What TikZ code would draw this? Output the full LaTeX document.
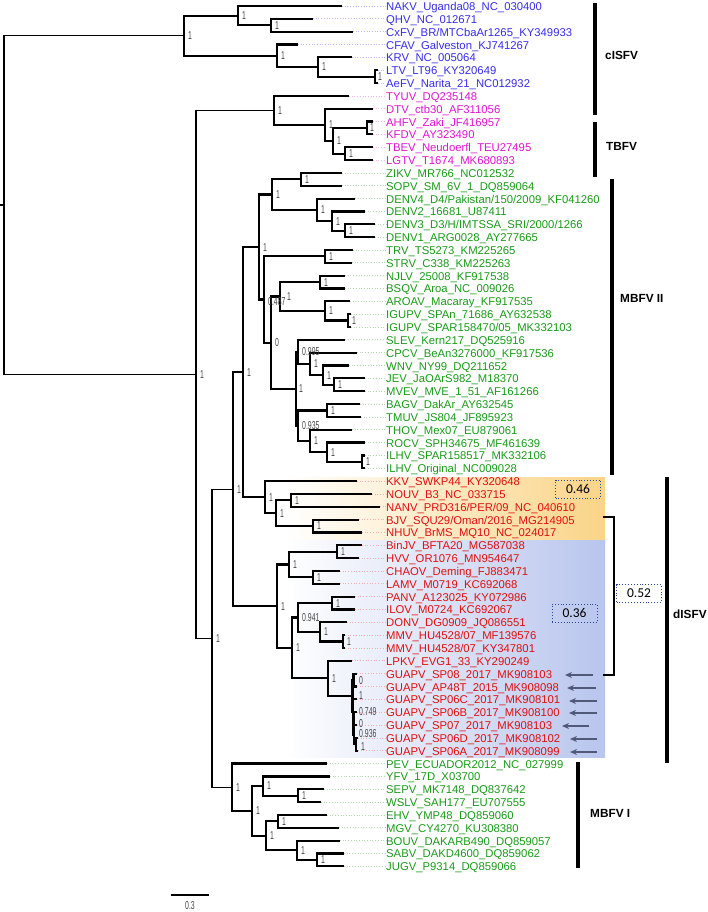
\documentclass[tikz,border=0pt]{standalone}
\usepackage{graphicx}
\usepackage{fontspec}
\setmainfont{Liberation Sans}
\newfontfamily\calibrifont{Carlito}
\usetikzlibrary{arrows.meta}
\definecolor{cblue}{RGB}{55,45,235}
\definecolor{cmag}{RGB}{225,20,210}
\definecolor{cgreen}{RGB}{25,155,25}
\definecolor{cred}{RGB}{225,15,15}
\definecolor{cblueL}{RGB}{190,186,250}
\definecolor{cmagL}{RGB}{245,180,240}
\definecolor{cgreenL}{RGB}{175,220,175}
\definecolor{credL}{RGB}{245,175,175}
\definecolor{ybox}{RGB}{250,212,135}
\definecolor{bbox}{RGB}{184,197,237}
\definecolor{arrowc}{RGB}{80,90,120}
\definecolor{dotc}{RGB}{40,70,150}
\definecolor{supc}{RGB}{70,70,70}
\tikzset{
 br/.style={line width=2.2pt},
 thinbr/.style={line width=1.3pt},
 leaflab/.style={anchor=base west, inner sep=0pt, font=\fontsize{11.3}{13}\selectfont},
 leader/.style={dotted, line width=0.7pt},
 supl/.style={anchor=west, inner sep=0pt, text=supc, font=\fontsize{11.5}{12}\selectfont},
 cladebar/.style={line width=3.5pt},
 cladelab/.style={anchor=west, inner sep=0pt, font=\bfseries\fontsize{11.8}{13}\selectfont},
 valbox/.style={draw=dotc, dotted, line width=0.9pt, inner sep=0pt, minimum width=45pt, minimum height=18pt, font=\calibrifont\fontsize{13.5}{15}\selectfont},
 guarrow/.style={-{Stealth[length=7pt,width=6pt]}, draw=arrowc, line width=1.4pt},
}
\begin{document}
\begin{tikzpicture}[x=1pt,y=-1pt]
\useasboundingbox (0,0) rectangle (708,912);
\fill[white] (0,0) rectangle (708,912);
% coloured backgrounds
\shade[left color=white, right color=ybox] (285,477) rectangle (605,540.5);
\shade[left color=white, right color=bbox] (285,540.5) rectangle (605,757);
% leaves
\coordinate (L1) at (342,6.00); \node[leaflab,text=cblue] (lab1) at (386,10.50) {NAKV\_Uganda08\_NC\_030400};
\coordinate (L2) at (313,18.84); \node[leaflab,text=cblue] (lab2) at (386,23.34) {QHV\_NC\_012671};
\coordinate (L3) at (353,31.68); \node[leaflab,text=cblue] (lab3) at (386,36.18) {CxFV\_BR/MTCbaAr1265\_KY349933};
\coordinate (L4) at (298,44.52); \node[leaflab,text=cblue] (lab4) at (386,49.02) {CFAV\_Galveston\_KJ741267};
\coordinate (L5) at (352,57.36); \node[leaflab,text=cblue] (lab5) at (386,61.86) {KRV\_NC\_005064};
\coordinate (L6) at (378,70.20); \node[leaflab,text=cblue] (lab6) at (386,74.70) {LTV\_LT96\_KY320649};
\coordinate (L7) at (378,83.04); \node[leaflab,text=cblue] (lab7) at (386,87.54) {AeFV\_Narita\_21\_NC012932};
\coordinate (L8) at (349,95.88); \node[leaflab,text=cmag] (lab8) at (386,100.38) {TYUV\_DQ235148};
\coordinate (L9) at (373,108.72); \node[leaflab,text=cmag] (lab9) at (386,113.22) {DTV\_ctb30\_AF311056};
\coordinate (L10) at (373,121.56); \node[leaflab,text=cmag] (lab10) at (386,126.06) {AHFV\_Zaki\_JF416957};
\coordinate (L11) at (373,134.40); \node[leaflab,text=cmag] (lab11) at (386,138.90) {KFDV\_AY323490};
\coordinate (L12) at (373,147.24); \node[leaflab,text=cmag] (lab12) at (386,151.74) {TBEV\_Neudoerfl\_TEU27495};
\coordinate (L13) at (373,160.08); \node[leaflab,text=cmag] (lab13) at (386,164.58) {LGTV\_T1674\_MK680893};
\coordinate (L14) at (342,172.92); \node[leaflab,text=cgreen] (lab14) at (386,177.42) {ZIKV\_MR766\_NC012532};
\coordinate (L15) at (342,185.76); \node[leaflab,text=cgreen] (lab15) at (386,190.26) {SOPV\_SM\_6V\_1\_DQ859064};
\coordinate (L16) at (355,198.60); \node[leaflab,text=cgreen] (lab16) at (386,203.10) {DENV4\_D4/Pakistan/150/2009\_KF041260};
\coordinate (L17) at (365,211.44); \node[leaflab,text=cgreen] (lab17) at (386,215.94) {DENV2\_16681\_U87411};
\coordinate (L18) at (375,224.28); \node[leaflab,text=cgreen] (lab18) at (386,228.78) {DENV3\_D3/H/IMTSSA\_SRI/2000/1266};
\coordinate (L19) at (375,237.12); \node[leaflab,text=cgreen] (lab19) at (386,241.62) {DENV1\_ARG0028\_AY277665};
\coordinate (L20) at (353,249.96); \node[leaflab,text=cgreen] (lab20) at (386,254.46) {TRV\_TS5273\_KM225265};
\coordinate (L21) at (352,262.80); \node[leaflab,text=cgreen] (lab21) at (386,267.30) {STRV\_C338\_KM225263};
\coordinate (L22) at (345,275.64); \node[leaflab,text=cgreen] (lab22) at (386,280.14) {NJLV\_25008\_KF917538};
\coordinate (L23) at (345,288.48); \node[leaflab,text=cgreen] (lab23) at (386,292.98) {BSQV\_Aroa\_NC\_009026};
\coordinate (L24) at (350,301.32); \node[leaflab,text=cgreen] (lab24) at (386,305.82) {AROAV\_Macaray\_KF917535};
\coordinate (L25) at (351,314.16); \node[leaflab,text=cgreen] (lab25) at (386,318.66) {IGUPV\_SPAn\_71686\_AY632538};
\coordinate (L26) at (351,327.00); \node[leaflab,text=cgreen] (lab26) at (386,331.50) {IGUPV\_SPAR158470/05\_MK332103};
\coordinate (L27) at (345,339.84); \node[leaflab,text=cgreen] (lab27) at (386,344.34) {SLEV\_Kern217\_DQ525916};
\coordinate (L28) at (357,352.68); \node[leaflab,text=cgreen] (lab28) at (386,357.18) {CPCV\_BeAn3276000\_KF917536};
\coordinate (L29) at (349,365.52); \node[leaflab,text=cgreen] (lab29) at (386,370.02) {WNV\_NY99\_DQ211652};
\coordinate (L30) at (365,378.36); \node[leaflab,text=cgreen] (lab30) at (386,382.86) {JEV\_JaOArS982\_M18370};
\coordinate (L31) at (365,391.20); \node[leaflab,text=cgreen] (lab31) at (386,395.70) {MVEV\_MVE\_1\_51\_AF161266};
\coordinate (L32) at (360,404.04); \node[leaflab,text=cgreen] (lab32) at (386,408.54) {BAGV\_DakAr\_AY632545};
\coordinate (L33) at (361,416.88); \node[leaflab,text=cgreen] (lab33) at (386,421.38) {TMUV\_JS804\_JF895923};
\coordinate (L34) at (352,429.72); \node[leaflab,text=cgreen] (lab34) at (386,434.22) {THOV\_Mex07\_EU879061};
\coordinate (L35) at (365,442.56); \node[leaflab,text=cgreen] (lab35) at (386,447.06) {ROCV\_SPH34675\_MF461639};
\coordinate (L36) at (365,455.40); \node[leaflab,text=cgreen] (lab36) at (386,459.90) {ILHV\_SPAR158517\_MK332106};
\coordinate (L37) at (365,468.24); \node[leaflab,text=cgreen] (lab37) at (386,472.74) {ILHV\_Original\_NC009028};
\coordinate (L38) at (357,481.08); \node[leaflab,text=cred] (lab38) at (386,485.58) {KKV\_SWKP44\_KY320648};
\coordinate (L39) at (372,493.92); \node[leaflab,text=cred] (lab39) at (386,498.42) {NOUV\_B3\_NC\_033715};
\coordinate (L40) at (380,506.76); \node[leaflab,text=cred] (lab40) at (386,511.26) {NANV\_PRD316/PER/09\_NC\_040610};
\coordinate (L41) at (359,519.60); \node[leaflab,text=cred] (lab41) at (386,524.10) {BJV\_SQU29/Oman/2016\_MG214905};
\coordinate (L42) at (362,532.44); \node[leaflab,text=cred] (lab42) at (386,536.94) {NHUV\_BrMS\_MQ10\_NC\_024017};
\coordinate (L43) at (362,545.28); \node[leaflab,text=cred] (lab43) at (386,549.78) {BinJV\_BFTA20\_MG587038};
\coordinate (L44) at (359,558.12); \node[leaflab,text=cred] (lab44) at (386,562.62) {HVV\_OR1076\_MN954647};
\coordinate (L45) at (340,570.96); \node[leaflab,text=cred] (lab45) at (386,575.46) {CHAOV\_Deming\_FJ883471};
\coordinate (L46) at (340,583.80); \node[leaflab,text=cred] (lab46) at (386,588.30) {LAMV\_M0719\_KC692068};
\coordinate (L47) at (355,596.64); \node[leaflab,text=cred] (lab47) at (386,601.14) {PANV\_A123025\_KY072986};
\coordinate (L48) at (355,609.48); \node[leaflab,text=cred] (lab48) at (386,613.98) {ILOV\_M0724\_KC692067};
\coordinate (L49) at (347,622.32); \node[leaflab,text=cred] (lab49) at (386,626.82) {DONV\_DG0909\_JQ086551};
\coordinate (L50) at (345,635.16); \node[leaflab,text=cred] (lab50) at (386,639.66) {MMV\_HU4528/07\_MF139576};
\coordinate (L51) at (345,648.00); \node[leaflab,text=cred] (lab51) at (386,652.50) {MMV\_HU4528/07\_KY347801};
\coordinate (L52) at (352,660.84); \node[leaflab,text=cred] (lab52) at (386,665.34) {LPKV\_EVG1\_33\_KY290249};
\coordinate (L53) at (357,673.68); \node[leaflab,text=cred] (lab53) at (386,678.18) {GUAPV\_SP08\_2017\_MK908103};
\coordinate (L54) at (357,686.52); \node[leaflab,text=cred] (lab54) at (386,691.02) {GUAPV\_AP48T\_2015\_MK908098};
\coordinate (L55) at (357,699.36); \node[leaflab,text=cred] (lab55) at (386,703.86) {GUAPV\_SP06C\_2017\_MK908101};
\coordinate (L56) at (357,712.20); \node[leaflab,text=cred] (lab56) at (386,716.70) {GUAPV\_SP06B\_2017\_MK908100};
\coordinate (L57) at (357,725.04); \node[leaflab,text=cred] (lab57) at (386,729.54) {GUAPV\_SP07\_2017\_MK908103};
\coordinate (L58) at (358,737.88); \node[leaflab,text=cred] (lab58) at (386,742.38) {GUAPV\_SP06D\_2017\_MK908102};
\coordinate (L59) at (358,750.72); \node[leaflab,text=cred] (lab59) at (386,755.22) {GUAPV\_SP06A\_2017\_MK908099};
\coordinate (L60) at (327,763.56); \node[leaflab,text=cgreen] (lab60) at (386,768.06) {PEV\_ECUADOR2012\_NC\_027999};
\coordinate (L61) at (330,776.40); \node[leaflab,text=cgreen] (lab61) at (386,780.90) {YFV\_17D\_X03700};
\coordinate (L62) at (324,789.24); \node[leaflab,text=cgreen] (lab62) at (386,793.74) {SEPV\_MK7148\_DQ837642};
\coordinate (L63) at (321,802.08); \node[leaflab,text=cgreen] (lab63) at (386,806.58) {WSLV\_SAH177\_EU707555};
\coordinate (L64) at (327,814.92); \node[leaflab,text=cgreen] (lab64) at (386,819.42) {EHV\_YMP48\_DQ859060};
\coordinate (L65) at (339,827.76); \node[leaflab,text=cgreen] (lab65) at (386,832.26) {MGV\_CY4270\_KU308380};
\coordinate (L66) at (340,840.60); \node[leaflab,text=cgreen] (lab66) at (386,845.10) {BOUV\_DAKARB490\_DQ859057};
\coordinate (L67) at (344,853.44); \node[leaflab,text=cgreen] (lab67) at (386,857.94) {SABV\_DAKD4600\_DQ859062};
\coordinate (L68) at (344,866.28); \node[leaflab,text=cgreen] (lab68) at (386,870.78) {JUGV\_P9314\_DQ859066};
% leader lines
\draw[leader,draw=cblueL] (L1) -- (lab1.west |- L1) (L2) -- (lab2.west |- L2) (L3) -- (lab3.west |- L3) (L4) -- (lab4.west |- L4) (L5) -- (lab5.west |- L5) (L6) -- (lab6.west |- L6) (L7) -- (lab7.west |- L7);
\draw[leader,draw=cmagL] (L8) -- (lab8.west |- L8) (L9) -- (lab9.west |- L9) (L10) -- (lab10.west |- L10) (L11) -- (lab11.west |- L11) (L12) -- (lab12.west |- L12) (L13) -- (lab13.west |- L13);
\draw[leader,draw=cgreenL] (L14) -- (lab14.west |- L14) (L15) -- (lab15.west |- L15) (L16) -- (lab16.west |- L16) (L17) -- (lab17.west |- L17) (L18) -- (lab18.west |- L18) (L19) -- (lab19.west |- L19) (L20) -- (lab20.west |- L20) (L21) -- (lab21.west |- L21) (L22) -- (lab22.west |- L22) (L23) -- (lab23.west |- L23) (L24) -- (lab24.west |- L24) (L25) -- (lab25.west |- L25) (L26) -- (lab26.west |- L26) (L27) -- (lab27.west |- L27) (L28) -- (lab28.west |- L28) (L29) -- (lab29.west |- L29) (L30) -- (lab30.west |- L30) (L31) -- (lab31.west |- L31) (L32) -- (lab32.west |- L32) (L33) -- (lab33.west |- L33) (L34) -- (lab34.west |- L34) (L35) -- (lab35.west |- L35) (L36) -- (lab36.west |- L36) (L37) -- (lab37.west |- L37);
\draw[leader,draw=credL] (L38) -- (lab38.west |- L38) (L39) -- (lab39.west |- L39) (L40) -- (lab40.west |- L40) (L41) -- (lab41.west |- L41) (L42) -- (lab42.west |- L42) (L43) -- (lab43.west |- L43) (L44) -- (lab44.west |- L44) (L45) -- (lab45.west |- L45) (L46) -- (lab46.west |- L46) (L47) -- (lab47.west |- L47) (L48) -- (lab48.west |- L48) (L49) -- (lab49.west |- L49) (L50) -- (lab50.west |- L50) (L51) -- (lab51.west |- L51) (L52) -- (lab52.west |- L52) (L53) -- (lab53.west |- L53) (L54) -- (lab54.west |- L54) (L55) -- (lab55.west |- L55) (L56) -- (lab56.west |- L56) (L57) -- (lab57.west |- L57) (L58) -- (lab58.west |- L58) (L59) -- (lab59.west |- L59);
\draw[leader,draw=cgreenL] (L60) -- (lab60.west |- L60) (L61) -- (lab61.west |- L61) (L62) -- (lab62.west |- L62) (L63) -- (lab63.west |- L63) (L64) -- (lab64.west |- L64) (L65) -- (lab65.west |- L65) (L66) -- (lab66.west |- L66) (L67) -- (lab67.west |- L67) (L68) -- (lab68.west |- L68);
% internal nodes
\coordinate (R0) at (0,204.98);
\coordinate (R) at (4,204.98);
\coordinate (c0) at (184,35.69);
\coordinate (c1) at (238,15.63);
\coordinate (c1b) at (271,25.26);
\coordinate (c2) at (277,55.76);
\coordinate (c3) at (318,66.99);
\coordinate (c4) at (375,76.62);
\coordinate (BB) at (196,374.26);
\coordinate (A) at (274,110.33);
\coordinate (B) at (325,124.77);
\coordinate (C) at (333,140.82);
\coordinate (D) at (367,127.98);
\coordinate (Etb) at (345,153.66);
\coordinate (F) at (212,638.19);
\coordinate (G) at (233,489.16);
\coordinate (H) at (243,372.09);
\coordinate (N2) at (259,247.05);
\coordinate (Z) at (272,194.59);
\coordinate (ZS) at (301,179.34);
\coordinate (DV) at (317,209.84);
\coordinate (DV2) at (332,221.07);
\coordinate (DV3) at (345,230.70);
\coordinate (N3) at (264,299.51);
\coordinate (TS) at (325,256.38);
\coordinate (N4) at (271,342.65);
\coordinate (Q) at (280,296.51);
\coordinate (NB) at (320,282.06);
\coordinate (AI) at (325,310.95);
\coordinate (IG) at (348,320.58);
\coordinate (S) at (296,388.79);
\coordinate (S1) at (298,351.88);
\coordinate (S2) at (310,363.92);
\coordinate (S3) at (323,375.15);
\coordinate (S4) at (334,384.78);
\coordinate (S6) at (298,425.71);
\coordinate (BT) at (327,410.46);
\coordinate (S7) at (310,440.96);
\coordinate (S8) at (327,452.19);
\coordinate (IL) at (362,461.82);
\coordinate (K1) at (265,497.13);
\coordinate (K2) at (276,513.18);
\coordinate (K3) at (291,500.34);
\coordinate (K4) at (313,526.02);
\coordinate (B0) at (277,606.22);
\coordinate (B1) at (289,564.54);
\coordinate (BH) at (337,551.70);
\coordinate (CL) at (313,577.38);
\coordinate (B2) at (292,647.90);
\coordinate (B3) at (298,617.51);
\coordinate (PI) at (332,603.06);
\coordinate (B4) at (320,631.95);
\coordinate (MM) at (343,641.58);
\coordinate (LG) at (328,678.29);
\coordinate (GU) at (352.5,695.75);
\coordinate (GA) at (353.5,680.10);
\coordinate (GB) at (353,711.40);
\coordinate (GC) at (353.5,723.44);
\coordinate (GD) at (354,734.67);
\coordinate (GE) at (356,744.30);
\coordinate (M0) at (232,787.23);
\coordinate (M1) at (252,810.90);
\coordinate (M2) at (263,786.03);
\coordinate (SW) at (298,795.66);
\coordinate (M3) at (266,835.79);
\coordinate (EM) at (278,821.34);
\coordinate (BO) at (297,850.23);
\coordinate (SJ) at (317,859.86);
% thin basal branches
\draw[thinbr] (R0) -- (R) (R) |- (c0) (R) |- (BB);
\draw[thinbr] (BB) |- (A) (BB) |- (F);
\draw[thinbr] (F) |- (G) (F) |- (M0);
% branches
\draw[br] (c0) |- (c1) (c0) |- (c2);
\draw[br] (c1) |- (L1) (c1) |- (c1b);
\draw[br] (c1b) |- (L2) (c1b) |- (L3);
\draw[br] (c2) |- (L4) (c2) |- (c3);
\draw[br] (c3) |- (L5) (c3) |- (c4);
\draw[br] (c4) |- (L6) (c4) |- (L7);
\draw[br] (A) |- (L8) (A) |- (B);
\draw[br] (B) |- (L9) (B) |- (C);
\draw[br] (C) |- (D) (C) |- (Etb);
\draw[br] (D) |- (L10) (D) |- (L11);
\draw[br] (Etb) |- (L12) (Etb) |- (L13);
\draw[br] (G) |- (H) (G) |- (B0);
\draw[br] (H) |- (N2) (H) |- (K1);
\draw[br] (N2) |- (Z) (N2) |- (N3);
\draw[br] (Z) |- (ZS) (Z) |- (DV);
\draw[br] (ZS) |- (L14) (ZS) |- (L15);
\draw[br] (DV) |- (L16) (DV) |- (DV2);
\draw[br] (DV2) |- (L17) (DV2) |- (DV3);
\draw[br] (DV3) |- (L18) (DV3) |- (L19);
\draw[br] (N3) |- (TS) (N3) |- (N4);
\draw[br] (TS) |- (L20) (TS) |- (L21);
\draw[br] (N4) |- (Q) (N4) |- (S);
\draw[br] (Q) |- (NB) (Q) |- (AI);
\draw[br] (NB) |- (L22) (NB) |- (L23);
\draw[br] (AI) |- (L24) (AI) |- (IG);
\draw[br] (IG) |- (L25) (IG) |- (L26);
\draw[br] (S) |- (S1) (S) |- (S6);
\draw[br] (S1) |- (L27) (S1) |- (S2);
\draw[br] (S2) |- (L28) (S2) |- (S3);
\draw[br] (S3) |- (L29) (S3) |- (S4);
\draw[br] (S4) |- (L30) (S4) |- (L31);
\draw[br] (S6) |- (BT) (S6) |- (S7);
\draw[br] (BT) |- (L32) (BT) |- (L33);
\draw[br] (S7) |- (L34) (S7) |- (S8);
\draw[br] (S8) |- (L35) (S8) |- (IL);
\draw[br] (IL) |- (L36) (IL) |- (L37);
\draw[br] (K1) |- (L38) (K1) |- (K2);
\draw[br] (K2) |- (K3) (K2) |- (K4);
\draw[br] (K3) |- (L39) (K3) |- (L40);
\draw[br] (K4) |- (L41) (K4) |- (L42);
\draw[br] (B0) |- (B1) (B0) |- (B2);
\draw[br] (B1) |- (BH) (B1) |- (CL);
\draw[br] (BH) |- (L43) (BH) |- (L44);
\draw[br] (CL) |- (L45) (CL) |- (L46);
\draw[br] (B2) |- (B3) (B2) |- (LG);
\draw[br] (B3) |- (PI) (B3) |- (B4);
\draw[br] (PI) |- (L47) (PI) |- (L48);
\draw[br] (B4) |- (L49) (B4) |- (MM);
\draw[br] (MM) |- (L50) (MM) |- (L51);
\draw[br] (LG) |- (L52) (LG) |- (GU);
\draw[br] (GU) |- (GA) (GU) |- (GB);
\draw[br] (GA) |- (L53) (GA) |- (L54);
\draw[br] (GB) |- (L55) (GB) |- (GC);
\draw[br] (GC) |- (L56) (GC) |- (GD);
\draw[br] (GD) |- (L57) (GD) |- (GE);
\draw[br] (GE) |- (L58) (GE) |- (L59);
\draw[br] (M0) |- (L60) (M0) |- (M1);
\draw[br] (M1) |- (M2) (M1) |- (M3);
\draw[br] (M2) |- (L61) (M2) |- (SW);
\draw[br] (SW) |- (L62) (SW) |- (L63);
\draw[br] (M3) |- (EM) (M3) |- (BO);
\draw[br] (EM) |- (L64) (EM) |- (L65);
\draw[br] (BO) |- (L66) (BO) |- (SJ);
\draw[br] (SJ) |- (L67) (SJ) |- (L68);
% support values
\node[supl] (sc0) at ([xshift=4pt]c0) {\scalebox{0.6}[1]{1}};
\node[supl] (sc1) at ([xshift=4pt]c1) {\scalebox{0.6}[1]{1}};
\node[supl] (sc1b) at ([xshift=4pt]c1b) {\scalebox{0.6}[1]{1}};
\node[supl] (sc2) at ([xshift=4pt]c2) {\scalebox{0.6}[1]{1}};
\node[supl] (sc3) at ([xshift=4pt]c3) {\scalebox{0.6}[1]{1}};
\node[supl] (sc4) at ([xshift=3pt]c4) {\scalebox{0.6}[1]{1}};
\node[supl] (sBB) at ([xshift=4pt]BB) {\scalebox{0.6}[1]{1}};
\node[supl] (sA) at ([xshift=4pt]A) {\scalebox{0.6}[1]{1}};
\node[supl] (sB) at ([xshift=4pt]B) {\scalebox{0.6}[1]{1}};
\node[supl] (sC) at ([xshift=4pt]C) {\scalebox{0.6}[1]{1}};
\node[supl] (sD) at ([xshift=3pt]D) {\scalebox{0.6}[1]{1}};
\node[supl] (sE) at ([xshift=4pt]Etb) {\scalebox{0.6}[1]{1}};
\node[supl] (sF) at ([xshift=4pt]F) {\scalebox{0.6}[1]{1}};
\node[supl] (sG) at ([xshift=4pt]G) {\scalebox{0.6}[1]{1}};
\node[supl] (sH) at ([xshift=4pt]H) {\scalebox{0.6}[1]{1}};
\node[supl] (sN2) at ([xshift=4pt]N2) {\scalebox{0.6}[1]{1}};
\node[supl] (sZ) at ([xshift=4pt]Z) {\scalebox{0.6}[1]{1}};
\node[supl] (sZS) at ([xshift=4pt]ZS) {\scalebox{0.6}[1]{1}};
\node[supl] (sDV) at ([xshift=4pt]DV) {\scalebox{0.6}[1]{1}};
\node[supl] (sDV2) at ([xshift=4pt]DV2) {\scalebox{0.6}[1]{1}};
\node[supl] (sDV3) at ([xshift=4pt]DV3) {\scalebox{0.6}[1]{1}};
\node[supl] (sN3) at ([xshift=4pt,yshift=-2pt]N3) {\scalebox{0.6}[1]{0.487}};
\node[supl] (sQ) at ([xshift=7pt]Q) {\scalebox{0.6}[1]{1}};
\node[supl] (sTS) at ([xshift=4pt]TS) {\scalebox{0.6}[1]{1}};
\node[supl] (sNB) at ([xshift=4pt]NB) {\scalebox{0.6}[1]{1}};
\node[supl] (sAI) at ([xshift=4pt]AI) {\scalebox{0.6}[1]{1}};
\node[supl] (sIG) at ([xshift=4pt]IG) {\scalebox{0.6}[1]{1}};
\node[supl] (sN4) at ([xshift=4pt]N4) {\scalebox{0.6}[1]{0}};
\node[supl] (sS) at ([xshift=3pt]S) {\scalebox{0.6}[1]{1}};
\node[supl] (sS1) at ([xshift=4pt]S1) {\scalebox{0.6}[1]{0.995}};
\node[supl] (sS2) at ([xshift=4pt]S2) {\scalebox{0.6}[1]{1}};
\node[supl] (sS3) at ([xshift=4pt]S3) {\scalebox{0.6}[1]{1}};
\node[supl] (sS4) at ([xshift=4pt]S4) {\scalebox{0.6}[1]{1}};
\node[supl] (sS6) at ([xshift=4pt]S6) {\scalebox{0.6}[1]{0.935}};
\node[supl] (sBT) at ([xshift=4pt]BT) {\scalebox{0.6}[1]{1}};
\node[supl] (sS7) at ([xshift=4pt]S7) {\scalebox{0.6}[1]{1}};
\node[supl] (sS8) at ([xshift=4pt]S8) {\scalebox{0.6}[1]{1}};
\node[supl] (sIL) at ([xshift=4pt]IL) {\scalebox{0.6}[1]{1}};
\node[supl] (sK1) at ([xshift=4pt]K1) {\scalebox{0.6}[1]{1}};
\node[supl] (sK2) at ([xshift=4pt]K2) {\scalebox{0.6}[1]{1}};
\node[supl] (sK3) at ([xshift=4pt]K3) {\scalebox{0.6}[1]{1}};
\node[supl] (sK4) at ([xshift=4pt]K4) {\scalebox{0.6}[1]{1}};
\node[supl] (sB0) at ([xshift=4pt]B0) {\scalebox{0.6}[1]{1}};
\node[supl] (sB1) at ([xshift=4pt]B1) {\scalebox{0.6}[1]{1}};
\node[supl] (sBH) at ([xshift=4pt]BH) {\scalebox{0.6}[1]{1}};
\node[supl] (sCL) at ([xshift=4pt]CL) {\scalebox{0.6}[1]{1}};
\node[supl] (sB2) at ([xshift=4pt]B2) {\scalebox{0.6}[1]{1}};
\node[supl] (sB3) at ([xshift=4pt]B3) {\scalebox{0.6}[1]{0.941}};
\node[supl] (sPI) at ([xshift=4pt]PI) {\scalebox{0.6}[1]{1}};
\node[supl] (sB4) at ([xshift=4pt]B4) {\scalebox{0.6}[1]{1}};
\node[supl] (sMM) at ([xshift=4pt]MM) {\scalebox{0.6}[1]{1}};
\node[supl] (sLG) at ([xshift=4pt]LG) {\scalebox{0.6}[1]{1}};
\node[supl] (sGA) at ([xshift=5.5pt]GA) {\scalebox{0.6}[1]{0}};
\node[supl] (sGU) at ([xshift=6.5pt]GU) {\scalebox{0.6}[1]{1}};
\node[supl] (sGB) at ([xshift=6pt]GB) {\scalebox{0.6}[1]{0.749}};
\node[supl] (sGC) at ([xshift=5.5pt]GC) {\scalebox{0.6}[1]{0}};
\node[supl] (sGD) at ([xshift=5pt,yshift=1.5pt]GD) {\scalebox{0.6}[1]{0.936}};
\node[supl] (sGE) at ([xshift=5pt,yshift=-2pt]GE) {\scalebox{0.6}[1]{1}};
\node[supl] (sM0) at ([xshift=4pt]M0) {\scalebox{0.6}[1]{1}};
\node[supl] (sM1) at ([xshift=4pt]M1) {\scalebox{0.6}[1]{1}};
\node[supl] (sM2) at ([xshift=4pt]M2) {\scalebox{0.6}[1]{1}};
\node[supl] (sSW) at ([xshift=4pt]SW) {\scalebox{0.6}[1]{1}};
\node[supl] (sM3) at ([xshift=4pt]M3) {\scalebox{0.6}[1]{1}};
\node[supl] (sEM) at ([xshift=4pt]EM) {\scalebox{0.6}[1]{1}};
\node[supl] (sBO) at ([xshift=4pt]BO) {\scalebox{0.6}[1]{1}};
\node[supl] (sSJ) at ([xshift=4pt]SJ) {\scalebox{0.6}[1]{1}};
% scale bar
\coordinate (sb1) at (171,895);
\coordinate (sb2) at (209,895);
\draw[line width=1.5pt] (sb1) -- (sb2);
\node[supl, anchor=north] (sbl) at (190,901) {\scalebox{0.6}[1]{0.3}};
% clade bars
\coordinate (cb1a) at (595,3);   \coordinate (cb1b) at (595,115);
\coordinate (cb2a) at (595,122); \coordinate (cb2b) at (595,177);
\coordinate (cb3a) at (612,179); \coordinate (cb3b) at (612,475);
\coordinate (cb4a) at (667,477); \coordinate (cb4b) at (667,763);
\coordinate (cb5a) at (578,762); \coordinate (cb5b) at (578,868);
\draw[cladebar] (cb1a) -- (cb1b);
\draw[cladebar] (cb2a) -- (cb2b);
\draw[cladebar] (cb3a) -- (cb3b);
\draw[cladebar] (cb4a) -- (cb4b);
\draw[cladebar] (cb5a) -- (cb5b);
\node[cladelab] (cl1) at (605,55) {cISFV};
\node[cladelab] (cl2) at (606,146) {TBFV};
\node[cladelab] (cl3) at (620,298) {MBFV II};
\node[cladelab] (cl4) at (673,614) {dISFV};
\node[cladelab] (cl5) at (590,813) {MBFV I};
% value boxes
\node[valbox] (v46) at (578,489) {0.46};
\node[valbox] (v36) at (574.5,613) {0.36};
\node[valbox, fill=white] (v52) at (639,593.5) {0.52};
% bracket
\coordinate (bk1) at (603,517); \coordinate (bk2) at (614,517);
\coordinate (bk3) at (614,675); \coordinate (bk4) at (603,675);
\draw[line width=1.5pt] (bk1) -- (bk2) -- (bk3) -- (bk4);
% arrows
\coordinate (a1s) at (593,675); \coordinate (a1e) at (565,675);
\coordinate (a2s) at (596,688); \coordinate (a2e) at (567,688);
\coordinate (a3s) at (597,701); \coordinate (a3e) at (569,701);
\coordinate (a4s) at (597,713); \coordinate (a4e) at (569,713);
\coordinate (a5s) at (589,726); \coordinate (a5e) at (562,726);
\coordinate (a6s) at (597,739); \coordinate (a6e) at (570,739);
\coordinate (a7s) at (597,752); \coordinate (a7e) at (570,752);
\draw[guarrow] (a1s) -- (a1e);
\draw[guarrow] (a2s) -- (a2e);
\draw[guarrow] (a3s) -- (a3e);
\draw[guarrow] (a4s) -- (a4e);
\draw[guarrow] (a5s) -- (a5e);
\draw[guarrow] (a6s) -- (a6e);
\draw[guarrow] (a7s) -- (a7e);
\end{tikzpicture}
\end{document}
